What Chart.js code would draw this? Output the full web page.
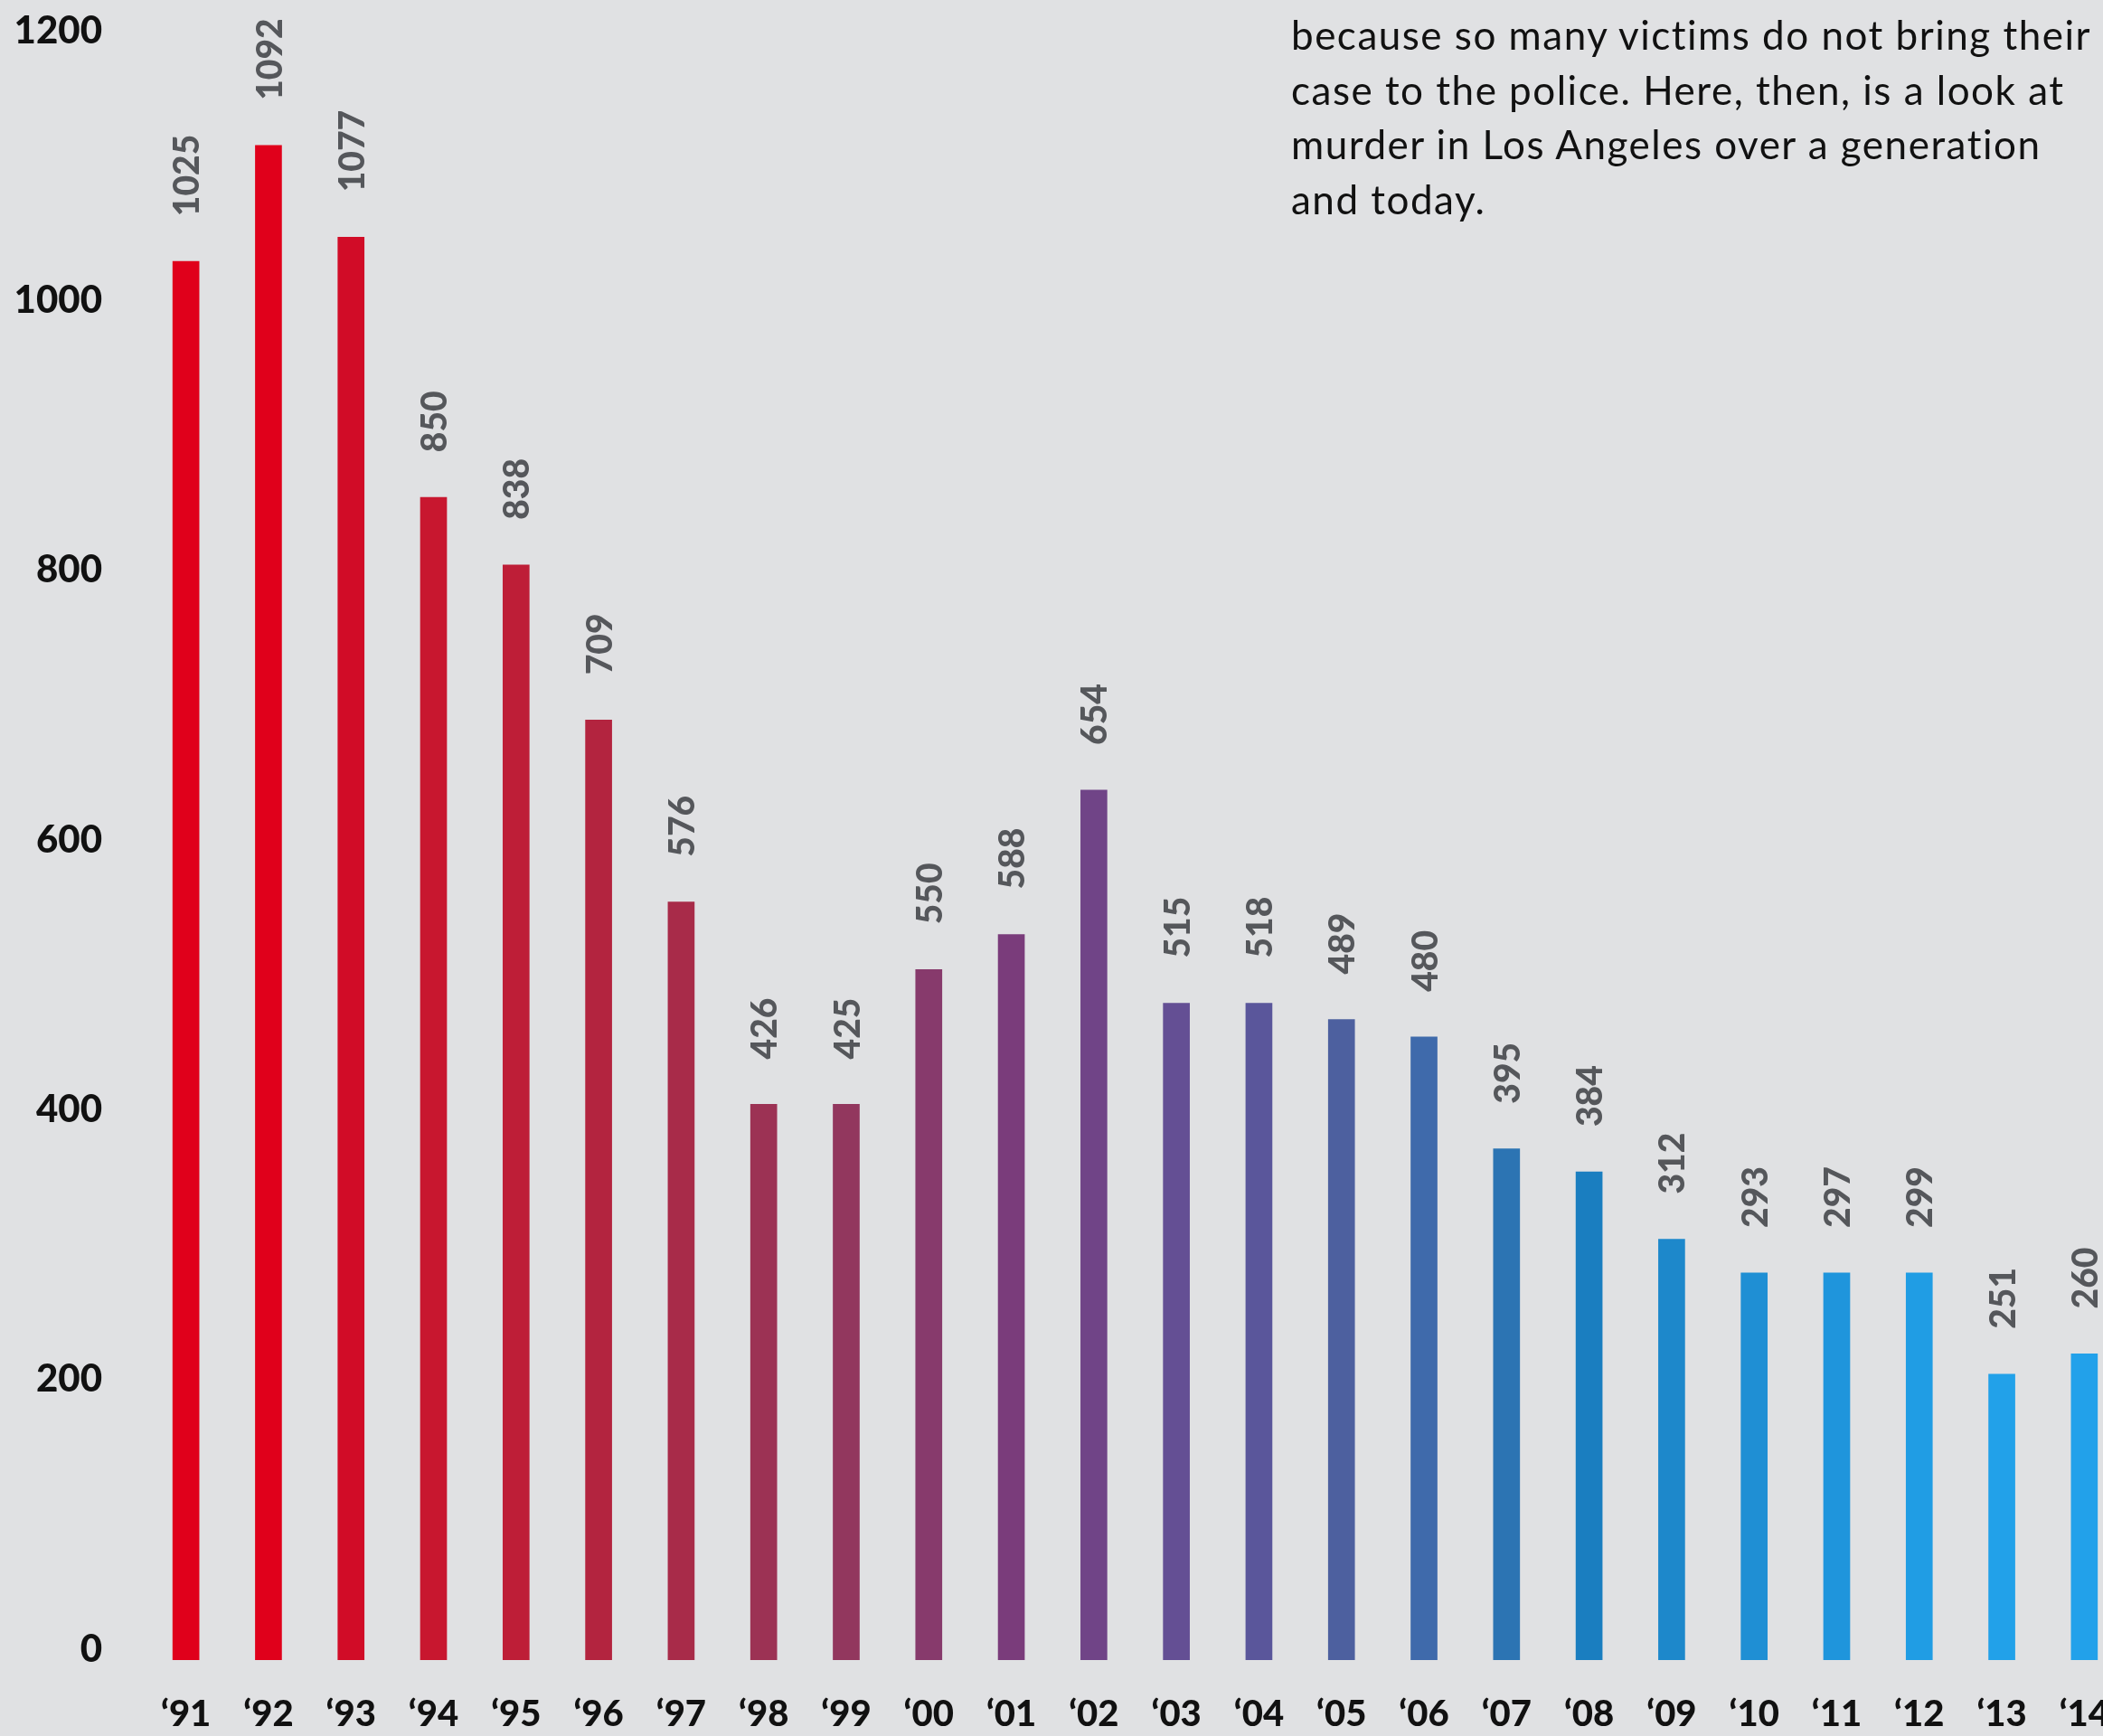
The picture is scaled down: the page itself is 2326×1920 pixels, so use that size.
<!DOCTYPE html>
<html>
<head>
<meta charset="utf-8">
<script src="https://cdn.jsdelivr.net/npm/chart.js@4.4.1/dist/chart.umd.min.js"></script>
<style>
  html, body { margin: 0; padding: 0; background: #e0e1e3; overflow: hidden; }
  #wrap { position: relative; width: 2351px; height: 1920px; }
  #note {
    position: absolute; left: 1428px; top: 8px;
    font-family: Lato, "Open Sans", sans-serif; font-size: 44px; line-height: 60.5px;
    letter-spacing: 1.5px; color: #111; white-space: nowrap;
  }
</style>
</head>
<body>
<div id="wrap">
  <canvas id="murder-chart"></canvas>
  <div id="note">because so many victims do not bring their<br>case to the police. Here, then, is a look at<br>murder in Los Angeles over a generation<br>and today.</div>
</div>
<script>
// anos e valores
const years = ['\u201891', '\u201892', '\u201893', '\u201894', '\u201895', '\u201896', '\u201897', '\u201898',
  '\u201899', '\u201800', '\u201801', '\u201802', '\u201803', '\u201804', '\u201805', '\u201806',
  '\u201807', '\u201808', '\u201809', '\u201810', '\u201811', '\u201812', '\u201813', '\u201814'];
// numbers printed above the bars
const murders = [1025, 1092, 1077, 850, 838, 709, 576, 426, 425, 550, 588, 654,
  515, 518, 489, 480, 395, 384, 312, 293, 297, 299, 251, 260];
// bar lengths as drawn in the picture (they don't follow the printed numbers exactly)
const barHeights = [1037, 1123, 1055, 862, 812, 697, 562, 412, 412, 512, 538, 645,
  487, 487, 475, 462, 379, 362, 312, 287, 287, 287, 212, 227];
const yTicks = [0, 200, 400, 600, 800, 1000, 1200];

const barColors = ['#e0001b', '#e0001b', '#d10c27', '#c8172f', '#be1e37', '#b3243f', '#a82b49', '#9c3254',
  '#92375e', '#873a6c', '#7a3c7b', '#704487', '#644f94', '#5a569b', '#4d609f', '#3f6aab',
  '#2c74b3', '#1a7ec0', '#1d88cb', '#1f8fd4', '#1f95dc', '#209de4', '#22a1e9', '#22a1ea'];

const valueLabels = {
  id: 'valueLabels',
  afterDatasetsDraw(chart) {
    const ctx = chart.ctx;
    const meta = chart.getDatasetMeta(0);
    ctx.save();
    ctx.fillStyle = '#55575b';
    ctx.font = '900 39px Lato, sans-serif';
    ctx.textAlign = 'left';
    ctx.textBaseline = 'middle';
    meta.data.forEach((bar, i) => {
      ctx.save();
      ctx.translate(bar.x + 2, bar.y - 50);
      ctx.rotate(-Math.PI / 2);
      ctx.fillText(String(murders[i]), 0, 0);
      ctx.restore();
    });
    ctx.restore();
  }
};

const ctx = document.getElementById('murder-chart').getContext('2d');
const murderChart = new Chart(ctx, {
  type: 'bar',
  data: {
    labels: years,
    datasets: [{
      label: 'Murders',
      data: barHeights,
      backgroundColor: barColors,
      borderWidth: 0,
      barThickness: 29
    }]
  },
  options: {
    responsive: true,
    maintainAspectRatio: false,
    animation: false,
    layout: { padding: { top: 46, left: 0, right: 0, bottom: 0 } },
    plugins: {
      legend: { display: false },
      tooltip: { enabled: false }
    },
    scales: {
      x: {
        grid: { display: false, drawTicks: false },
        border: { display: false },
        ticks: {
          color: '#111',
          font: { family: 'Lato', size: 40, weight: '900' },
          padding: 36,
          maxRotation: 0,
          autoSkip: false
        },
        afterFit(axis) {
          axis.height = 84;
          axis.paddingLeft = 0;
          axis.paddingRight = 0;
        }
      },
      y: {
        min: 0,
        max: 1200,
        grid: { display: false, drawTicks: false },
        border: { display: false },
        afterBuildTicks(axis) {
          axis.ticks = yTicks.map(v => ({ value: v }));
        },
        ticks: {
          color: '#111',
          font: { family: 'Lato', size: 42, weight: '900' },
          padding: 47,
          labelOffset: -12,
          callback: value => String(value)
        },
        afterFit(axis) {
          axis.width = 160;
          axis.paddingTop = 0;
          axis.paddingBottom = 0;
        }
      }
    }
  },
  plugins: [valueLabels]
});
</script>
</body>
</html>
